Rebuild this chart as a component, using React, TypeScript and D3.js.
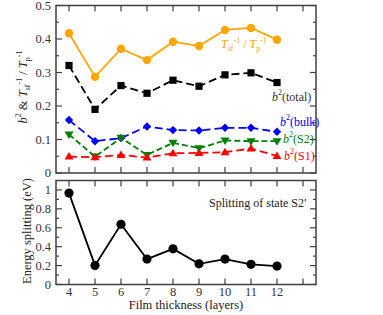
import React from 'react';
import * as d3 from 'd3';

const layers = [4, 5, 6, 7, 8, 9, 10, 11, 12];
const tRatio = [0.417, 0.287, 0.371, 0.337, 0.392, 0.379, 0.427, 0.433, 0.398];
const b2Total = [0.321, 0.19, 0.261, 0.238, 0.277, 0.259, 0.293, 0.299, 0.27];
const b2Bulk = [0.158, 0.095, 0.104, 0.139, 0.128, 0.127, 0.135, 0.135, 0.123];
const b2S2 = [0.115, 0.049, 0.105, 0.054, 0.09, 0.074, 0.097, 0.095, 0.095];
const b2S1 = [0.049, 0.047, 0.054, 0.046, 0.059, 0.06, 0.062, 0.073, 0.051];
const splitting = [0.967, 0.202, 0.637, 0.269, 0.377, 0.219, 0.269, 0.213, 0.195];

const topTicks = [0, 0.1, 0.2, 0.3, 0.4, 0.5];
const bottomTicks = [0, 0.2, 0.4, 0.6, 0.8, 1];
const xTicks = [4, 5, 6, 7, 8, 9, 10, 11, 12];

const FONT = "'Liberation Serif', 'DejaVu Serif', serif";
const AXIS = '#404040';

const left = 56;
const right = 316;

const x = d3.scaleLinear().domain([3.5, 13.5]).range([left, right]);
const yTop = d3.scaleLinear().domain([0, 0.5]).range([173, 5.5]);
const yBot = d3.scaleLinear().domain([0, 1.1]).range([284.5, 180.5]);

type Marker = 'circle' | 'square' | 'diamond' | 'up' | 'down';

const markerPath = (m: Marker, cx: number, cy: number) => {
  switch (m) {
    case 'square':
      return `M${cx - 3.6},${cy - 3.6}h7.2v7.2h-7.2z`;
    case 'diamond':
      return `M${cx},${cy - 4.2}L${cx + 4.2},${cy}L${cx},${cy + 4.2}L${cx - 4.2},${cy}z`;
    case 'up':
      return `M${cx},${cy - 4.5}L${cx + 4.5},${cy + 3}L${cx - 4.5},${cy + 3}z`;
    case 'down':
      return `M${cx},${cy + 4.5}L${cx + 4.5},${cy - 3}L${cx - 4.5},${cy - 3}z`;
    default:
      return '';
  }
};

const Series: React.FC<{
  values: number[];
  y: d3.ScaleLinear<number, number>;
  color: string;
  marker: Marker;
  dash?: string;
  r?: number;
}> = ({ values, y, color, marker, dash, r = 4 }) => {
  const line = d3
    .line<number>()
    .x((_, i) => x(layers[i]))
    .y((d) => y(d));
  return (
    <g>
      <path d={line(values) || ''} fill="none" stroke={color} strokeWidth={1.8} strokeDasharray={dash} />
      {values.map((v, i) =>
        marker === 'circle' ? (
          <circle key={i} cx={x(layers[i])} cy={y(v)} r={r} fill={color} />
        ) : (
          <path key={i} d={markerPath(marker, x(layers[i]), y(v))} fill={color} />
        )
      )}
    </g>
  );
};

const Frame: React.FC<{
  y: d3.ScaleLinear<number, number>;
  ticks: number[];
  minor: number[];
  fmt: (v: number) => string;
  xLabels: boolean;
}> = ({ y, ticks, minor, fmt, xLabels }) => {
  const [y0, y1] = y.range();
  return (
    <g>
      <rect x={left} y={y1} width={right - left} height={y0 - y1} fill="none" stroke={AXIS} strokeWidth={1.5} />
      {ticks.map((t) => (
        <g key={'t' + t}>
          <line x1={left} x2={left + 6} y1={y(t)} y2={y(t)} stroke={AXIS} strokeWidth={1.2} />
          <line x1={right} x2={right - 6} y1={y(t)} y2={y(t)} stroke={AXIS} strokeWidth={1.2} />
          <text x={left - 5} y={y(t)} dy="0.35em" textAnchor="end" fontSize={12.5} fill="#333">
            {fmt(t)}
          </text>
        </g>
      ))}
      {minor.map((t) => (
        <g key={'m' + t}>
          <line x1={left} x2={left + 3} y1={y(t)} y2={y(t)} stroke={AXIS} strokeWidth={1.2} />
          <line x1={right} x2={right - 3} y1={y(t)} y2={y(t)} stroke={AXIS} strokeWidth={1.2} />
        </g>
      ))}
      {[...xTicks, 13].map((t) => (
        <g key={'x' + t}>
          <line x1={x(t)} x2={x(t)} y1={y0} y2={y0 - 6} stroke={AXIS} strokeWidth={1.2} />
          <line x1={x(t)} x2={x(t)} y1={y1} y2={y1 + 6} stroke={AXIS} strokeWidth={1.2} />
          {xLabels && t <= 12 && (
            <text x={x(t)} y={y0 + 11} textAnchor="middle" fontSize={12.5} fill="#333">
              {t}
            </text>
          )}
        </g>
      ))}
    </g>
  );
};

const App: React.FC = () => {
  const topMinor = d3.range(0.05, 0.5, 0.1);
  const botMinor = d3.range(0.1, 1.1, 0.2);
  return (
    <div style={{ position: 'absolute', left: 0, top: 0 }}>
      <svg width={383} height={315} style={{ display: 'block', background: '#fff', fontFamily: FONT }}>
        <Frame y={yTop} ticks={topTicks} minor={topMinor} fmt={(v) => (v === 0 ? '0' : d3.format('.1f')(v))} xLabels={false} />
        <Frame y={yBot} ticks={bottomTicks} minor={botMinor} fmt={(v) => (v === 0 || v === 1 ? String(v) : d3.format('.1f')(v))} xLabels={true} />

        <Series values={tRatio} y={yTop} color="#FFA500" marker="circle" r={4.2} />
        <Series values={b2Total} y={yTop} color="#000" marker="square" dash="8,4" />
        <Series values={b2Bulk} y={yTop} color="#0000FF" marker="diamond" dash="8,4" />
        <Series values={b2S2} y={yTop} color="#008000" marker="down" dash="6,3" />
        <Series values={b2S1} y={yTop} color="#FF0000" marker="up" dash="8,4" />
        <Series values={splitting} y={yBot} color="#000" marker="circle" r={4.6} />

        <g fontSize={12}>
          <text x={221} y={48} fill="#FFA500">
            <tspan fontStyle="italic">T</tspan>
            <tspan fontSize={8} dy={3}>sf</tspan>
            <tspan fontSize={8} dy={-8}>-1</tspan>
            <tspan dy={5}> / </tspan>
            <tspan fontStyle="italic">T</tspan>
            <tspan fontSize={8} dy={3}>p</tspan>
            <tspan fontSize={8} dy={-8}>-1</tspan>
          </text>
          <text x={272} y={101} fill="#333">
            <tspan fontStyle="italic">b</tspan>
            <tspan fontSize={8} dy={-6}>2</tspan>
            <tspan dy={6}>(total)</tspan>
          </text>
          <text x={280} y={126} fill="#0000FF">
            <tspan fontStyle="italic">b</tspan>
            <tspan fontSize={8} dy={-6}>2</tspan>
            <tspan dy={6}>(bulk)</tspan>
          </text>
          <text x={283} y={143} fill="#008000">
            <tspan fontStyle="italic">b</tspan>
            <tspan fontSize={8} dy={-6}>2</tspan>
            <tspan dy={6}>(S2)</tspan>
          </text>
          <text x={284} y={160} fill="#FF0000">
            <tspan fontStyle="italic">b</tspan>
            <tspan fontSize={8} dy={-6}>2</tspan>
            <tspan dy={6}>(S1)</tspan>
          </text>
          <text x={209} y={207} fill="#222">Splitting of state S2′</text>
          <text x={186} y={309} textAnchor="middle" fontSize={12.5} fill="#222">Film thickness (layers)</text>
          <text transform="translate(31,231) rotate(-90)" textAnchor="middle" fontSize={12.5} fill="#222">
            Energy splitting (eV)
          </text>
          <text transform="translate(27,87) rotate(-90)" textAnchor="middle" fontSize={12.5} fill="#222">
            <tspan fontStyle="italic">b</tspan>
            <tspan fontSize={8} dy={-6}>2</tspan>
            <tspan dy={6}> &amp; </tspan>
            <tspan fontStyle="italic">T</tspan>
            <tspan fontSize={8} dy={3}>sf</tspan>
            <tspan fontSize={8} dy={-8}>-1</tspan>
            <tspan dy={5}> / </tspan>
            <tspan fontStyle="italic">T</tspan>
            <tspan fontSize={8} dy={3}>p</tspan>
            <tspan fontSize={8} dy={-8}>-1</tspan>
          </text>
        </g>
      </svg>
    </div>
  );
};

export default App;
